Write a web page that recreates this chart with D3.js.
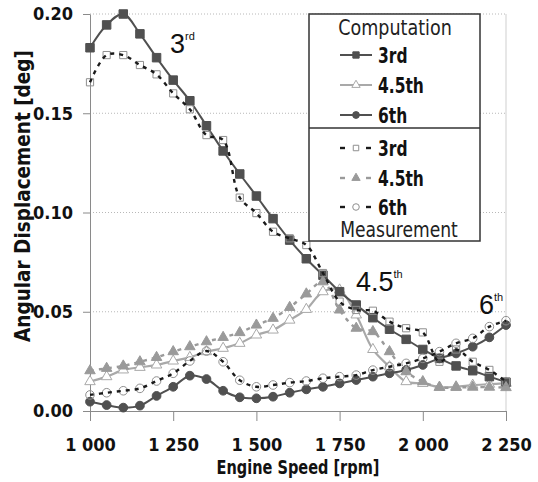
<!DOCTYPE html>
<html>
<head>
<meta charset="utf-8">
<script src="https://cdn.jsdelivr.net/npm/d3@7"></script>
<style>
  body { margin: 0; background: #fff; }
  svg text { font-family: "DejaVu Sans Condensed", "Liberation Sans", sans-serif; }
</style>
</head>
<body>
<svg id="chart" width="538" height="482"></svg>
<script>
// engine speed, rpm
const rpm = [1000,1050,1100,1150,1200,1250,1300,1350,1400,1450,1500,1550,1600,1650,1700,1750,1800,1850,1900,1950,2000,2050,2100,2150,2200,2250]

// computation
const comp3  = [0.183,0.1945,0.200,0.190,0.178,0.1667,0.1563,0.1437,0.131,0.1194,0.1083,0.0969,0.0861,0.0767,0.0684,0.0601,0.0534,0.047,0.0412,0.0361,0.031,0.0265,0.0227,0.0203,0.0173,0.0145]
const comp45 = [0.0148,0.0173,0.0207,0.022,0.0232,0.0252,0.027,0.0299,0.0316,0.0341,0.0383,0.0408,0.0458,0.0512,0.0601,0.061,0.0484,0.031,0.0223,0.0148,0.0139,0.012,0.0122,0.013,0.0135,0.014]
const comp6  = [0.0047,0.003,0.0017,0.0027,0.0076,0.0122,0.0178,0.0161,0.0102,0.0069,0.0064,0.0072,0.0092,0.0109,0.0122,0.0139,0.0156,0.0173,0.019,0.0207,0.0232,0.0265,0.029,0.0324,0.0371,0.0433]

// measurement
const meas3  = [0.1656,0.1793,0.1793,0.1743,0.1696,0.160,0.152,0.139,0.1365,0.1075,0.0997,0.0903,0.087,0.0836,0.0695,0.0551,0.0509,0.0505,0.045,0.0417,0.0396,0.0248,0.031,0.0248,0.0207,0.0148]
const meas45 = [0.0203,0.0215,0.0227,0.0248,0.027,0.0299,0.0324,0.0349,0.0371,0.0395,0.0433,0.0467,0.0522,0.059,0.0651,0.0509,0.0417,0.040,0.0299,0.0198,0.0148,0.0119,0.0119,0.012,0.012,0.0118]
const meas6  = [0.0081,0.0092,0.0102,0.0114,0.0151,0.019,0.0252,0.0302,0.0248,0.0155,0.0122,0.0131,0.0143,0.0151,0.0165,0.0173,0.0181,0.0206,0.0223,0.024,0.0265,0.0299,0.0341,0.0366,0.0425,0.0455]

const xTicks = [1000,1250,1500,1750,2000,2250]
const xTickLabels = ["1 000","1 250","1 500","1 750","2 000","2 250"]
const yTicks = [0,0.05,0.10,0.15,0.20]
const orderLabels = ["3rd","4.5th","6th"]

const width = 538
const height = 482
const margin = {top:14, left:90, right:32, bottom:71}

const svg = d3.select("#chart")
const x = d3.scaleLinear().domain([1000,2250]).range([margin.left, width-margin.right])
const y = d3.scaleLinear().domain([0,0.2]).range([height-margin.bottom, margin.top])

// grid
svg.append("g").selectAll("line").data(yTicks.filter(d=>d>0))
    .join("line")
    .attr("x1",x(1000)).attr("x2",x(2250))
    .attr("y1",d=>y(d)).attr("y2",d=>y(d))
    .attr("stroke","#b8b8b8").attr("stroke-dasharray","1,2")
svg.append("line")
    .attr("x1",x(2250)).attr("x2",x(2250)).attr("y1",y(0.2)).attr("y2",y(0))
    .attr("stroke","#cfcfcf")

// axes
const y_axis = d3.axisLeft(y).tickValues(yTicks).tickFormat(d3.format(".2f")).tickSize(7).tickSizeOuter(0).tickPadding(10)
const x_axis = d3.axisBottom(x).tickValues(xTicks).tickFormat((d,i)=>xTickLabels[i]).tickSize(10).tickSizeOuter(0).tickPadding(17)
svg.append("g").attr("class","y_axis").attr("transform",`translate(${margin.left},0)`).call(y_axis)
svg.append("g").attr("class","x_axis").attr("transform",`translate(0,${y(0)})`).call(x_axis)
svg.selectAll(".domain, .tick line").attr("stroke","#8a8a8a")
svg.selectAll(".tick text").attr("font-size",18).attr("font-weight","bold").attr("fill","#111")
    .style("font-family",'"DejaVu Sans Condensed", sans-serif')

// squeezed text, to get closer to the narrow bold face of the original
function narrow(parent, tx, ty, str, size, sx, anchor, weight){
    return parent.append("text").attr("transform",`translate(${tx},${ty}) scale(${sx},1)`)
        .attr("text-anchor",anchor).attr("font-size",size).attr("font-weight",weight).attr("fill","#111")
        .text(str)
}

svg.append("text").attr("transform",`translate(30,196) rotate(-90)`)
    .attr("text-anchor","middle").attr("font-size",20.5).attr("font-weight","bold").attr("fill","#111")
    .text("Angular Displacement [deg]")
narrow(svg, 298, 474, "Engine Speed [rpm]", 19, 0.85, "middle", "bold")

const line = vals => d3.line().x((d,i)=>x(rpm[i])).y(d=>y(d)).curve(d3.curveCatmullRom)(vals)

const dark = "#505050", light = "#a9a9a9", mid = "#9a9a9a"

// computation lines + markers
svg.append("path").attr("d",line(comp45)).attr("fill","none").attr("stroke",light).attr("stroke-width",2.2)
svg.append("path").attr("d",line(comp3)).attr("fill","none").attr("stroke",dark).attr("stroke-width",2)
svg.append("path").attr("d",line(comp6)).attr("fill","none").attr("stroke",dark).attr("stroke-width",2)

const sym = (type,size)=>d3.symbol().type(type).size(size)()

function markers(vals, type, size, fill, stroke){
    svg.append("g").selectAll("path").data(vals).join("path")
        .attr("transform",(d,i)=>`translate(${x(rpm[i])},${y(d)})`)
        .attr("d",sym(type,size))
        .attr("fill",fill).attr("stroke",stroke).attr("stroke-width",1)
}
markers(comp45, d3.symbolTriangle, 48, "#fff", light)
markers(comp3, d3.symbolSquare, 72, dark, dark)
markers(comp6, d3.symbolCircle, 60, dark, dark)

// measurement markers then dashed lines on top
markers(meas45, d3.symbolTriangle, 48, mid, mid)
markers(meas3, d3.symbolSquare, 52, "none", "#8f8f8f")
markers(meas6, d3.symbolCircle, 58, "none", "#8f8f8f")

const dash = "4,5"
svg.append("path").attr("d",line(meas45)).attr("fill","none").attr("stroke",mid).attr("stroke-width",2.4).attr("stroke-dasharray",dash)
svg.append("path").attr("d",line(meas3)).attr("fill","none").attr("stroke","#1a1a1a").attr("stroke-width",2.4).attr("stroke-dasharray",dash)
svg.append("path").attr("d",line(meas6)).attr("fill","none").attr("stroke","#1a1a1a").attr("stroke-width",2.4).attr("stroke-dasharray",dash)

// order annotations
function annot(tx, ty, main, sup){
    const t = svg.append("text").attr("x",tx).attr("y",ty).attr("font-size",27).attr("fill","#111")
        .style("font-family",'"Liberation Sans", Arial, sans-serif')
    t.append("tspan").text(main)
    t.append("tspan").attr("dy",-13).attr("font-size",11).text(sup)
}
annot(170, 53, "3", "rd")
annot(356, 291, "4.5", "th")
annot(479, 314, "6", "th")

// legend
const lg = svg.append("g")
lg.append("rect").attr("x",309).attr("y",14).attr("width",171).attr("height",227)
    .attr("fill","#fff").attr("stroke","#333").attr("stroke-width",1.5)
lg.append("line").attr("x1",309).attr("x2",480).attr("y1",128).attr("y2",128).attr("stroke","#333").attr("stroke-width",1.5)
narrow(lg, 395, 35, "Computation", 21, 0.93, "middle", "normal").attr("fill","#222")
narrow(lg, 399, 237, "Measurement", 20.5, 0.93, "middle", "normal").attr("fill","#222")

const compLeg = [
    {stroke:dark, type:d3.symbolSquare, size:40, fill:dark, mstroke:dark},
    {stroke:light, type:d3.symbolTriangle, size:30, fill:"#fff", mstroke:light},
    {stroke:dark, type:d3.symbolCircle, size:36, fill:dark, mstroke:dark}
]
const measLeg = [
    {stroke:"#1a1a1a", type:d3.symbolSquare, size:30, fill:"#fff", mstroke:"#8f8f8f"},
    {stroke:mid, type:d3.symbolTriangle, size:30, fill:mid, mstroke:mid},
    {stroke:"#1a1a1a", type:d3.symbolCircle, size:34, fill:"#fff", mstroke:"#8f8f8f"}
]
const compBase = [63,93,123]
const measBase = [156,186,215]
compLeg.forEach((s,i)=>{
    const cy = compBase[i]-8
    lg.append("line").attr("x1",340).attr("x2",372).attr("y1",cy).attr("y2",cy).attr("stroke",s.stroke).attr("stroke-width",2)
    lg.append("path").attr("transform",`translate(356,${cy})`).attr("d",sym(s.type,s.size)).attr("fill",s.fill).attr("stroke",s.mstroke)
    narrow(lg, 378, compBase[i], orderLabels[i], 21, 0.82, "start", "bold")
})
measLeg.forEach((s,i)=>{
    const cy = measBase[i]-8
    lg.append("line").attr("x1",340).attr("x2",345).attr("y1",cy).attr("y2",cy).attr("stroke",s.stroke).attr("stroke-width",2.4)
    lg.append("line").attr("x1",366).attr("x2",371).attr("y1",cy).attr("y2",cy).attr("stroke",s.stroke).attr("stroke-width",2.4)
    lg.append("path").attr("transform",`translate(356,${cy})`).attr("d",sym(s.type,s.size)).attr("fill",s.fill).attr("stroke",s.mstroke)
    narrow(lg, 378, measBase[i], orderLabels[i], 21, 0.82, "start", "bold")
})
</script>
</body>
</html>
